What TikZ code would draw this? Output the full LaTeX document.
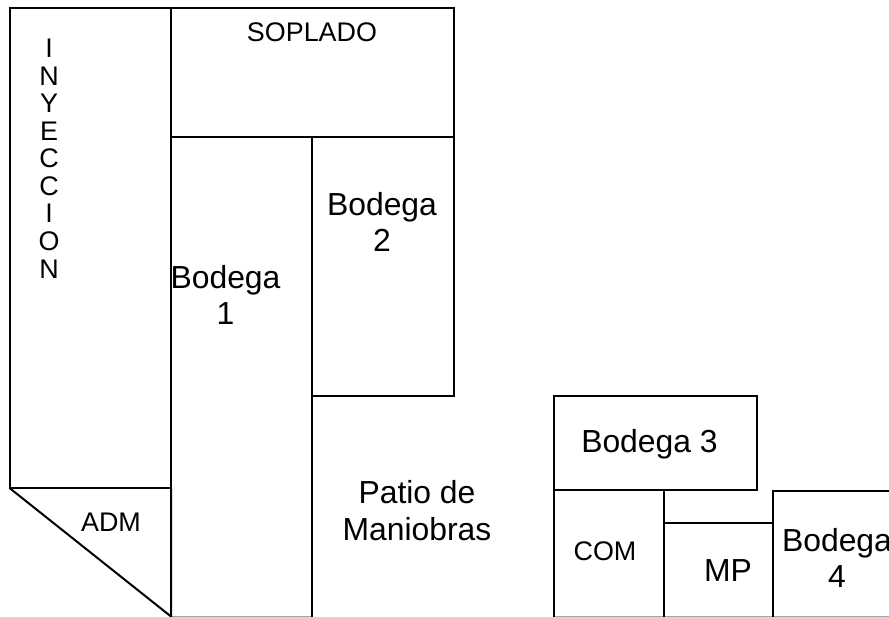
\documentclass[tikz,border=0pt]{standalone}
\usepackage{fontspec}
\setmainfont{Liberation Sans}
\tikzset{
  wall/.style = {draw = black, line width = 2bp},
  floorline/.style = {draw = gray!70, line width = 1bp},
  bigtext/.style = {align = center, inner sep = 0pt, font = \fontsize{32}{36.5}\selectfont},
  smalltext/.style = {align = center, inner sep = 0pt, font = \fontsize{27}{30}\selectfont},
}
\begin{document}
\begin{tikzpicture}[x = 1bp, y = -1bp]
\useasboundingbox (0,0) rectangle (889,617);
\clip (0,0) rectangle (889,617);
% bottom edge
\draw [floorline] (171,616.5) -- (312,616.5);
\draw [floorline] (554,616.5) -- (889,616.5);
% left block
\draw [wall] (9.5,8) rectangle (171,488);
\draw [wall] (9.5,488) -- (171,616.5) -- (171,488);
\draw [wall] (171,8) rectangle (454,137);
\draw [wall] (171,617) -- (171,137) -- (312,137) -- (312,617);
\draw [wall] (312,137) rectangle (454,396);
% right block
\draw [wall] (554,396) rectangle (757,490);
\draw [wall] (554,617) -- (554,490) -- (663.5,490) -- (663.5,617);
\draw [wall] (663.5,522.5) -- (772.5,522.5);
\draw [wall] (772.5,617) -- (772.5,490.5) -- (889,490.5);
% labels
\foreach \ch [count = \n from 0] in {I,N,Y,E,C,C,I,O,N}
  \node [smalltext, anchor = base] (iny\n) at (49,58+27.5*\n) {\ch};
\node [smalltext] (soplado) at (312,32) {SOPLADO};
\node [smalltext] (adm) at (111,522) {ADM};
\node [smalltext] (com) at (605,551) {COM};
\node [bigtext] (bodega1) at (225.5,295) {Bodega\\1};
\node [bigtext] (bodega2) at (382,222) {Bodega\\2};
\node [bigtext] (bodega3) at (649.5,444) {Bodega 3};
\node [bigtext] (bodega4) at (837,558) {Bodega\\4};
\node [bigtext] (mp) at (728,571) {MP};
\node [bigtext] (patio) at (417,510.5) {Patio de\\Maniobras};
\end{tikzpicture}
\end{document}
